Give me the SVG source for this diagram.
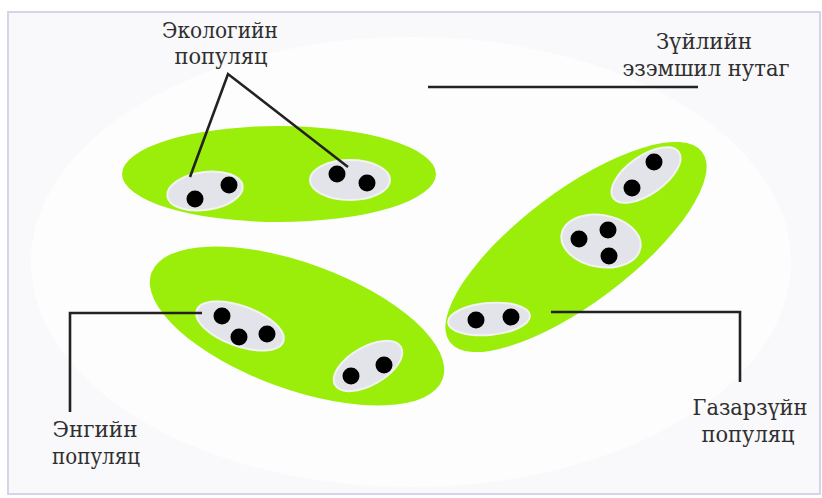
<svg xmlns="http://www.w3.org/2000/svg" width="822" height="498" viewBox="0 0 822 498">
<style>
.pop{fill:#9aee0a}
.sub{fill:#e3e3ea;stroke:#f3f3f3;stroke-width:2}
.dot{fill:#000}
.lbl{font-family:"DejaVu Serif","Liberation Serif",serif;font-size:22px;fill:#2f2f2f;text-anchor:middle}
.con{fill:none;stroke:#222;stroke-width:2.6;stroke-linecap:butt}
</style>
<rect x="0" y="0" width="822" height="498" fill="#ffffff"/>
<rect x="8" y="12" width="812" height="482" fill="#f9f9fb" stroke="#d6d4e8" stroke-width="2"/>
<ellipse cx="411" cy="262" rx="380" ry="225" fill="#fdfdfd"/>

<g id="pop-top-left">
  <ellipse class="pop" cx="279" cy="174" rx="157" ry="48"/>
  <ellipse class="sub" cx="205" cy="191" rx="38" ry="19" transform="rotate(-8 205 191)"/>
  <circle class="dot" cx="195" cy="199" r="8.5"/>
  <circle class="dot" cx="229" cy="185" r="8.5"/>
  <ellipse class="sub" cx="350" cy="180" rx="40" ry="20"/>
  <circle class="dot" cx="337" cy="174" r="8.5"/>
  <circle class="dot" cx="367" cy="183" r="8.5"/>
</g>

<g id="pop-lower-left">
  <ellipse class="pop" cx="297" cy="326" rx="155" ry="63" transform="rotate(20 297 326)"/>
  <ellipse class="sub" cx="240" cy="326" rx="46" ry="20" transform="rotate(20 240 326)"/>
  <circle class="dot" cx="222" cy="316" r="8.5"/>
  <circle class="dot" cx="239" cy="337" r="8.5"/>
  <circle class="dot" cx="267" cy="334" r="8.5"/>
  <ellipse class="sub" cx="368" cy="366" rx="38" ry="19" transform="rotate(-30 368 366)"/>
  <circle class="dot" cx="351" cy="376" r="8.5"/>
  <circle class="dot" cx="384" cy="365" r="8.5"/>
</g>

<g id="pop-right">
  <ellipse class="pop" cx="576" cy="247" rx="158" ry="56" transform="rotate(-37 576 247)"/>
  <ellipse class="sub" cx="646" cy="175" rx="40" ry="19" transform="rotate(-35 646 175)"/>
  <circle class="dot" cx="654" cy="162" r="8.5"/>
  <circle class="dot" cx="632" cy="188" r="8.5"/>
  <ellipse class="sub" cx="601" cy="241" rx="40" ry="26" transform="rotate(10 601 241)"/>
  <circle class="dot" cx="579" cy="239" r="8.5"/>
  <circle class="dot" cx="608" cy="230" r="8.5"/>
  <circle class="dot" cx="609" cy="256" r="8.5"/>
  <ellipse class="sub" cx="489" cy="319" rx="41" ry="16" transform="rotate(-5 489 319)"/>
  <circle class="dot" cx="476" cy="320" r="8.5"/>
  <circle class="dot" cx="511" cy="317" r="8.5"/>
</g>

<g id="label-ecological">
  <text class="lbl" x="220" y="38" textLength="116" lengthAdjust="spacingAndGlyphs">Экологийн</text>
  <text class="lbl" x="221" y="64" textLength="93" lengthAdjust="spacingAndGlyphs">популяц</text>
</g>
<g id="label-range">
  <text class="lbl" x="704" y="49" textLength="96" lengthAdjust="spacingAndGlyphs">Зүйлийн</text>
  <text class="lbl" x="706" y="76" textLength="167" lengthAdjust="spacingAndGlyphs">эзэмшил нутаг</text>
</g>
<g id="label-simple">
  <text class="lbl" x="95" y="437" textLength="85" lengthAdjust="spacingAndGlyphs">Энгийн</text>
  <text class="lbl" x="96" y="464" textLength="88" lengthAdjust="spacingAndGlyphs">популяц</text>
</g>
<g id="label-geographic">
  <text class="lbl" x="750" y="415" textLength="115" lengthAdjust="spacingAndGlyphs">Газарзүйн</text>
  <text class="lbl" x="748" y="442" textLength="93" lengthAdjust="spacingAndGlyphs">популяц</text>
</g>

<g id="connectors">
  <polyline class="con" points="190,177 228,74 348,167"/>
  <line class="con" x1="428" y1="87" x2="698" y2="87" stroke-width="3"/>
  <polyline class="con" points="202,313 70,313 70,412"/>
  <polyline class="con" points="551,312 740,312 740,382"/>
</g>
</svg>
